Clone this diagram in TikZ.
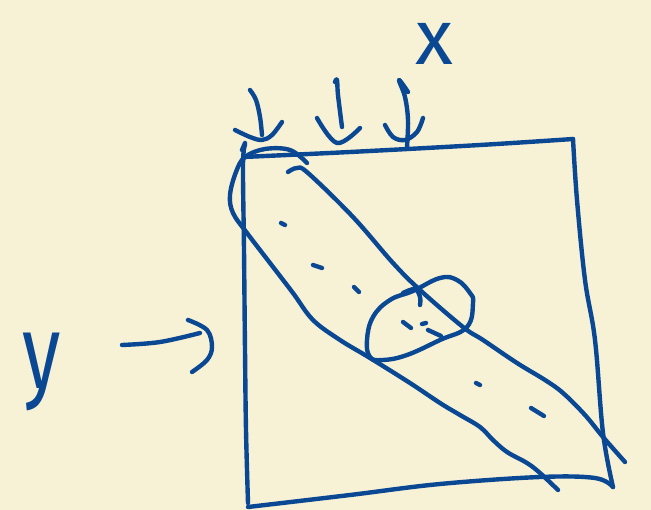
\documentclass[tikz,border=0pt]{standalone}
\usepackage{fontspec}
\newfontfamily\handfont{Fira Sans}
\definecolor{paper}{RGB}{247,242,214}
\definecolor{ink}{RGB}{10,72,148}
\begin{document}
\begin{tikzpicture}[x=1pt,y=-1pt,
  pen/.style={draw=ink,line width=4.4pt,line cap=round,line join=round},
  lbl/.style={text=ink,font=\handfont\fontsize{78}{78}\selectfont,inner sep=0pt}]
\fill[paper] (0,0) rectangle (651,510);
\useasboundingbox (0,0) rectangle (651,510);
% square
\draw[pen] plot[smooth,tension=0.6] coordinates {(242,150) (245,143)};
\draw[pen] plot[smooth,tension=0.6] coordinates {(245,145) (243,165) (244,250) (245,350) (246,430) (248,503)};
\draw[pen] plot[smooth,tension=0.6] coordinates {(243,157) (350,152) (480,145) (573,139)};
\draw[pen] plot[smooth,tension=0.6] coordinates {(573,139) (577,200) (585,280) (595,340) (603,433) (613,487)};
\draw[pen] plot[smooth,tension=0.6] coordinates {(248,507) (350,495) (440,484) (540,477) (595,478) (613,487)};
% band
\draw[pen] plot[smooth,tension=0.6] coordinates {(307,163) (290,150) (265,149) (245,157) (236,172) (230,195) (233,213) (247,233) (270,263) (293,293) (313,320) (340,340) (370,358) (410,383) (440,403) (460,415) (480,427) (493,440) (507,452) (527,463) (540,473) (558,490)};
\draw[pen] plot[smooth,tension=0.6] coordinates {(288,172) (297,168) (308,173) (353,217) (393,263) (420,290) (463,327) (483,340) (517,363) (545,380) (563,393) (585,415) (603,437) (625,462)};
% ellipse
\draw[pen] plot[smooth cycle,tension=0.7] coordinates {(473,303) (467,327) (440,340) (407,355) (383,360) (370,357) (367,340) (373,317) (390,300) (413,291) (440,278) (457,280) (470,293)};
\draw[pen] plot[smooth,tension=0.6] coordinates {(403,293) (415,289) (420,297) (420,305)};
% dashes
\draw[pen] (281,223) -- (285,225);
\draw[pen] (313,265) -- (322,268);
\draw[pen] (354,287) -- (359,292);
\draw[pen] (403,322) -- (411,328);
\draw[pen] (422,324) -- (426,323);
\draw[pen] (428,330) -- (441,336);
\draw[pen] (476,383) -- (480,385);
\draw[pen] (531,408) -- (544,416);
% top arrows
\draw[pen] plot[smooth,tension=0.6] coordinates {(250,90) (256,100) (260,117) (262,135)};
\draw[pen] plot[smooth,tension=0.6] coordinates {(235,130) (250,137) (262,140) (272,135) (282,122)};
\draw[pen] plot[smooth,tension=0.6] coordinates {(335,82) (337,80) (338,95) (342,127)};
\draw[pen] plot[smooth,tension=0.6] coordinates {(317,118) (337,143) (360,128)};
\draw[pen] plot[smooth,tension=0.6] coordinates {(407,147) (408,120) (405,97) (399,80) (408,92)};
\draw[pen] plot[smooth,tension=0.6] coordinates {(385,125) (393,137) (405,140) (417,132) (423,118)};
% y arrow
\draw[pen] plot[smooth,tension=0.6] coordinates {(122,345) (160,342) (200,333)};
\draw[pen] plot[smooth,tension=0.6] coordinates {(188,320) (207,330) (212,347) (207,360) (192,372)};
% labels
\node[lbl] (xl) at (434,44) {x};
\node[lbl] (yl) at (42,372) {\scalebox{1}[1.35]{y}};
\end{tikzpicture}
\end{document}
